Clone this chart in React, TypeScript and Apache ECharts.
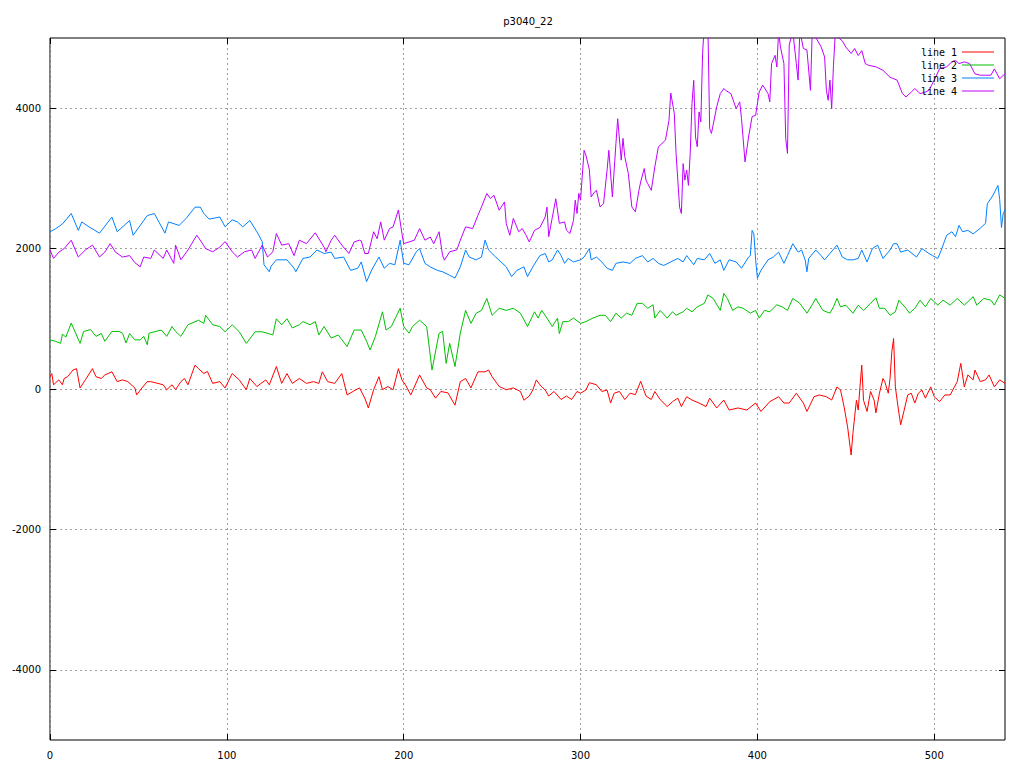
import React, { useEffect, useRef } from "react";
import * as echarts from "echarts";

const titleText = "p3040_22";
const seriesNames = ["line 1", "line 2", "line 3", "line 4"];
const seriesColors = ["#ff0000", "#00c000", "#0080ff", "#c000ff"];
const xTicks = [0, 100, 200, 300, 400, 500];
const yTicks = [-4000, -2000, 0, 2000, 4000];

// line 1 (red)
const line1: [number, number][] = [
  [0, 175], [1, 220], [2, 60], [5, 130], [7, 60], [8, 150], [10, 175], [13, 270], [15, 290], [17, 15],
  [20, 130], [24, 290], [26, 175], [29, 150], [31, 200], [35, 245], [38, 105], [41, 130], [44, 105], [48, 15],
  [49, -85], [52, 15], [55, 105], [57, 105], [61, 80], [64, 60], [66, -10], [69, 60], [71, -10], [74, 105],
  [76, 150], [78, 60], [82, 340], [84, 290], [87, 220], [89, 250], [92, 80], [96, 105], [99, 15], [103, 220],
  [107, 130], [111, -10], [113, 150], [117, 35], [122, 130], [124, 60], [128, 320], [131, 80], [134, 220], [137, 80],
  [141, 150], [145, 80], [149, 105], [152, 80], [154, 245], [157, 105], [161, 80], [165, 220], [168, -85], [173, -10],
  [175, 15], [178, -130], [180, -270], [183, -10], [186, 175], [188, -10], [191, 35], [194, -10], [197, 290], [199, 130],
  [201, 60], [204, -85], [209, 200], [213, 15], [215, -10], [218, -130], [221, -35], [225, -55], [229, -230], [232, 105],
  [235, 150], [238, 15], [242, 245], [246, 245], [248, 270], [250, 175], [254, 35], [258, -10], [262, 15], [266, -35],
  [268, -160], [271, -100], [273, -15], [275, 130], [277, 60], [280, -15], [282, -100], [285, -35], [289, -150], [292, -100],
  [295, -150], [298, -35], [300, -60], [303, -15], [305, 90], [309, 60], [312, -35], [315, -15], [317, -200], [319, -60],
  [322, -35], [325, -150], [328, -60], [331, -80], [334, 110], [337, -100], [340, -150], [342, -35], [345, -150], [349, -250],
  [352, -180], [355, -130], [357, -250], [360, -110], [363, -157], [367, -200], [371, -250], [373, -130], [377, -270], [381, -157],
  [384, -300], [389, -270], [394, -300], [399, -200], [402, -320], [407, -180], [412, -110], [415, -200], [418, -200], [422, -60],
  [426, -200], [428, -320], [432, -110], [435, -85], [439, -110], [442, -157], [445, 30], [447, -15], [449, -250], [451, -540],
  [453, -940], [454, -630], [455, -390], [456, -160], [457, -300], [458, 30], [459, 340], [460, -160], [462, -320], [464, -35],
  [466, -160], [467, -340], [469, -60], [471, 150], [472, 105], [474, -60], [475, 150], [476, 530], [477, 720], [478, 30],
  [479, -160], [480, -340], [481, -510], [483, -300], [485, -85], [487, -60], [489, -200], [491, -60], [493, -15], [495, -130],
  [498, 30], [500, -110], [503, -180], [506, -85], [509, -85], [513, 105], [515, 365], [517, 30], [519, 200], [522, 130],
  [523, 270], [526, 105], [529, 130], [531, 200], [534, 30], [537, 130], [540, 80],
];

// line 2 (green)
const line2: [number, number][] = [
  [0, 700], [3, 680], [6, 650], [7, 780], [9, 740], [12, 940], [17, 650], [19, 820], [23, 845], [26, 750],
  [29, 790], [31, 680], [35, 820], [39, 820], [41, 795], [43, 655], [45, 790], [48, 700], [51, 700], [53, 750],
  [55, 630], [56, 795], [63, 840], [66, 750], [69, 890], [71, 820], [74, 750], [78, 915], [84, 980], [87, 935],
  [88, 1050], [92, 915], [96, 890], [99, 815], [103, 915], [107, 815], [111, 650], [116, 815], [120, 815], [126, 770],
  [128, 1000], [131, 915], [134, 1000], [137, 870], [141, 915], [143, 960], [147, 915], [150, 960], [152, 770], [155, 890],
  [159, 725], [163, 770], [168, 605], [172, 840], [176, 840], [179, 680], [181, 555], [184, 750], [188, 1100], [190, 840],
  [193, 890], [198, 1150], [200, 890], [203, 795], [205, 890], [209, 980], [213, 890], [216, 270], [220, 795], [222, 820],
  [224, 365], [226, 650], [229, 320], [232, 795], [235, 1120], [238, 935], [241, 1080], [244, 1120], [247, 1290], [250, 1050],
  [254, 1150], [258, 1120], [262, 1150], [266, 1080], [270, 890], [274, 1100], [276, 1010], [278, 1120], [281, 1010], [284, 890],
  [287, 1010], [288, 790], [290, 960], [293, 960], [296, 1010], [300, 935], [303, 960], [307, 1010], [311, 1050], [314, 1050],
  [317, 960], [320, 1080], [323, 1010], [326, 1080], [329, 1050], [332, 1220], [335, 1220], [338, 1150], [341, 1200], [342, 1010],
  [345, 1120], [349, 1010], [352, 1100], [354, 1050], [358, 1100], [360, 1150], [363, 1100], [366, 1170], [370, 1220], [372, 1340],
  [375, 1290], [379, 1120], [381, 1360], [383, 1290], [386, 1120], [389, 1170], [392, 1150], [396, 1080], [399, 1120], [401, 1010],
  [404, 1120], [407, 1100], [411, 1200], [414, 1170], [417, 1120], [420, 1290], [424, 1220], [428, 1080], [431, 1200], [433, 1290],
  [437, 1120], [441, 1080], [443, 1170], [445, 1290], [447, 1170], [450, 1195], [454, 1080], [457, 1195], [460, 1120], [464, 1220],
  [467, 1300], [469, 1150], [472, 1150], [475, 1050], [478, 1100], [480, 1265], [484, 1150], [486, 1080], [489, 1150], [492, 1265],
  [495, 1170], [498, 1290], [502, 1195], [505, 1265], [509, 1195], [513, 1290], [517, 1195], [522, 1315], [524, 1195], [528, 1290],
  [532, 1265], [534, 1195], [537, 1340], [540, 1290],
];

// line 3 (blue)
const line3: [number, number][] = [
  [0, 2240], [3, 2280], [7, 2350], [12, 2500], [16, 2260], [18, 2380], [22, 2310], [28, 2220], [35, 2450], [38, 2240],
  [45, 2400], [47, 2190], [55, 2470], [59, 2500], [65, 2220], [67, 2380], [73, 2330], [77, 2430], [82, 2590], [85, 2590],
  [87, 2500], [90, 2420], [96, 2450], [99, 2310], [103, 2410], [106, 2380], [109, 2310], [113, 2400], [117, 2240], [120, 2100],
  [121, 1770], [124, 1670], [125, 1750], [128, 1840], [134, 1840], [138, 1720], [139, 1670], [143, 1860], [147, 1880], [151, 1980],
  [155, 1930], [159, 1950], [161, 1860], [166, 1880], [170, 1690], [174, 1720], [176, 1810], [179, 1530], [182, 1700], [186, 1880],
  [189, 1720], [192, 1790], [195, 1770], [198, 2120], [200, 1790], [203, 1770], [207, 1950], [209, 2000], [212, 1790], [215, 1740],
  [219, 1690], [222, 1670], [226, 1620], [229, 1580], [232, 1740], [235, 1980], [237, 1880], [241, 1840], [244, 1880], [246, 2120],
  [248, 1980], [252, 1880], [258, 1740], [261, 1600], [264, 1690], [268, 1740], [270, 1600], [273, 1740], [277, 1900], [280, 1930],
  [282, 1810], [284, 1840], [287, 1980], [289, 1900], [291, 1790], [293, 1860], [296, 1810], [300, 1840], [302, 1880], [305, 2000],
  [306, 1840], [309, 1880], [312, 1810], [315, 1720], [318, 1690], [320, 1790], [324, 1810], [328, 1790], [331, 1860], [335, 1900],
  [338, 1810], [341, 1860], [344, 1790], [347, 1760], [351, 1810], [355, 1860], [358, 1810], [360, 1900], [364, 1770], [366, 1860],
  [370, 1840], [373, 1930], [376, 1790], [379, 1840], [381, 1690], [384, 1840], [388, 1810], [391, 1720], [395, 1880], [396, 1900],
  [397, 2260], [398, 2210], [399, 1840], [400, 1580], [402, 1690], [406, 1840], [409, 1880], [412, 1950], [415, 1790], [417, 1900],
  [420, 2070], [423, 1950], [425, 1980], [427, 1840], [428, 1670], [429, 1860], [433, 1980], [436, 1900], [438, 1840], [441, 1930],
  [445, 2050], [448, 1880], [451, 1840], [454, 1840], [457, 1860], [459, 1980], [462, 1810], [465, 2000], [468, 2050], [471, 1860],
  [475, 1980], [477, 2070], [479, 2070], [481, 1950], [485, 1980], [490, 1880], [493, 2000], [497, 1930], [499, 1900], [502, 1860],
  [504, 1980], [507, 2190], [510, 2240], [512, 2170], [514, 2330], [516, 2240], [519, 2260], [522, 2210], [526, 2290], [529, 2360],
  [530, 2640], [533, 2750], [536, 2900], [537, 2700], [538, 2300], [539, 2500], [540, 2550],
];

// line 4 (purple)
const line4: [number, number][] = [
  [0, 1980], [2, 1860], [5, 1950], [8, 2000], [12, 2120], [16, 1880], [20, 1980], [24, 2050], [28, 1880], [31, 1950],
  [34, 2070], [37, 1950], [41, 1880], [45, 1900], [48, 1800], [51, 1740], [53, 1880], [57, 1860], [59, 1980], [64, 1860],
  [66, 1980], [70, 1790], [71, 2050], [74, 1840], [78, 1980], [83, 2190], [86, 2080], [88, 2000], [92, 1955], [96, 2020],
  [99, 2100], [103, 1955], [106, 1880], [110, 1955], [114, 1980], [116, 1860], [120, 2050], [123, 1880], [126, 1955], [128, 2215],
  [131, 2050], [135, 2070], [138, 1900], [141, 2120], [145, 2070], [150, 2225], [155, 2020], [156, 1955], [159, 2120], [161, 2190],
  [165, 2050], [169, 1930], [172, 2095], [175, 2120], [176, 2110], [178, 1930], [180, 1930], [183, 2240], [185, 2140], [187, 2380],
  [189, 2120], [192, 2285], [194, 2310], [197, 2550], [199, 2215], [200, 2070], [203, 2095], [206, 2120], [209, 2285], [212, 2120],
  [215, 2165], [217, 2070], [220, 2240], [222, 1900], [223, 1835], [226, 1955], [230, 1980], [232, 2120], [235, 2310], [239, 2285],
  [242, 2476], [244, 2594], [247, 2785], [249, 2714], [251, 2760], [254, 2547], [257, 2665], [258, 2355], [260, 2190], [262, 2430],
  [265, 2240], [267, 2285], [269, 2200], [271, 2095], [274, 2262], [277, 2300], [280, 2450], [281, 2590], [282, 2170], [284, 2440],
  [286, 2710], [288, 2360], [291, 2380], [292, 2262], [294, 2215], [296, 2400], [297, 2690], [298, 2500], [299, 2786], [300, 2690],
  [302, 3400], [303, 3333], [305, 3120], [306, 2736], [308, 2810], [309, 2830], [311, 2594], [313, 2640], [315, 3120], [316, 3400],
  [318, 2736], [320, 3496], [321, 3850], [323, 3260], [324, 3570], [325, 3310], [327, 3070], [329, 2594], [331, 2523], [333, 2830],
  [334, 2950], [336, 3140], [337, 2975], [338, 2925], [340, 2830], [342, 3165], [344, 3450], [346, 3496], [348, 3545], [350, 3828],
  [351, 4216], [353, 3925], [354, 3356], [356, 2590], [357, 2500], [358, 3210], [359, 2975], [360, 3120], [361, 2900], [362, 3356],
  [363, 4066], [364, 4397], [365, 3590], [366, 3450], [367, 3947], [368, 3805], [369, 4777], [370, 5200], [372, 5200], [373, 3710],
  [374, 3640], [377, 4020], [379, 4208], [381, 4280], [382, 4255], [385, 4208], [388, 3995], [390, 4090], [391, 3855], [392, 3545],
  [393, 3235], [395, 3590], [397, 3880], [399, 3900], [401, 4230], [403, 4330], [406, 4208], [407, 4090], [408, 4635], [410, 4753],
  [411, 4587], [412, 5100], [413, 4875], [415, 4635], [416, 3567], [417, 3356], [418, 4900], [420, 5100], [422, 4635], [423, 4400],
  [424, 5100], [426, 4850], [428, 4830], [430, 4255], [431, 5100], [436, 4875], [438, 4730], [439, 4255], [440, 4113], [441, 4400],
  [442, 3995], [443, 4610], [444, 5050], [446, 5000], [448, 4960], [450, 4870], [453, 4780], [455, 4850], [457, 4750], [459, 4820],
  [461, 4635], [463, 4610], [467, 4590], [471, 4540], [475, 4440], [479, 4400], [482, 4208], [484, 4160], [487, 4230], [489, 4280],
  [492, 4208], [495, 4230], [497, 4255], [500, 4400], [503, 4563], [507, 4590], [510, 4660], [512, 4680], [514, 4635], [517, 4660],
  [520, 4635], [523, 4490], [526, 4470], [529, 4470], [532, 4470], [534, 4560], [537, 4420], [540, 4490],
];

const seriesData = [line1, line2, line3, line4];

const FONT = "DejaVu Sans";
const gridLine = { show: true, lineStyle: { color: "#a0a0a0", type: [2, 3] as number[], width: 1 } };
const tickStyle = { show: true, inside: true, length: 6, lineStyle: { color: "#000" } };

export default function App() {
  const ref = useRef<HTMLDivElement>(null);
  useEffect(() => {
    if (!ref.current) return;
    const chart = echarts.init(ref.current, undefined, { renderer: "svg" });
    const option = {
      animation: false,
      backgroundColor: "#ffffff",
      title: {
        text: titleText,
        left: 523,
        textAlign: "center",
        top: 11,
        textStyle: { fontFamily: FONT, fontSize: 10, fontWeight: "normal", color: "#000" },
      },
      legend: {
        data: seriesNames.map((n) => ({ name: n, icon: "rect" })),
        orient: "vertical",
        right: 30,
        top: 46,
        padding: 0,
        align: "right",
        itemWidth: 32,
        itemHeight: 1,
        itemGap: 1,
        textStyle: { fontFamily: "DejaVu Sans Mono", fontSize: 10, color: "#000", lineHeight: 12 },
      },
      grid: { left: 50, right: 19, top: 38, bottom: 28, show: true, borderColor: "#000", borderWidth: 1, backgroundColor: "transparent" },
      xAxis: [
        {
          type: "value", min: 0, max: 540, position: "bottom",
          axisLine: { show: false, onZero: false },
          axisTick: { ...tickStyle, customValues: xTicks },
          axisLabel: { customValues: xTicks, fontFamily: FONT, fontSize: 10, color: "#000", margin: 10 },
          splitLine: gridLine,
        },
        {
          type: "value", min: 0, max: 540, position: "top",
          axisLine: { show: false, onZero: false },
          axisTick: { ...tickStyle, customValues: xTicks },
          axisLabel: { show: false },
          splitLine: { show: false },
        },
      ],
      yAxis: [
        {
          type: "value", min: -5000, max: 5000, position: "left",
          axisLine: { show: false, onZero: false },
          axisTick: { ...tickStyle, customValues: yTicks },
          axisLabel: { customValues: yTicks, fontFamily: FONT, fontSize: 10, color: "#000", margin: 9, formatter: (v: number) => String(v) },
          splitLine: gridLine,
        },
        {
          type: "value", min: -5000, max: 5000, position: "right",
          axisLine: { show: false, onZero: false },
          axisTick: { ...tickStyle, customValues: yTicks },
          axisLabel: { show: false },
          splitLine: { show: false },
        },
      ],
      series: seriesData.map((d, i) => ({
        name: seriesNames[i],
        type: "line",
        data: d,
        xAxisIndex: 0,
        yAxisIndex: 0,
        symbol: "none",
        clip: true,
        lineStyle: { color: seriesColors[i], width: 1 },
        itemStyle: { color: seriesColors[i] },
        color: seriesColors[i],
      })),
    };
    chart.setOption(option as any);
    return () => chart.dispose();
  }, []);
  return <div ref={ref} style={{ position: "fixed", left: 0, top: 0, width: 1024, height: 768 }} />;
}
